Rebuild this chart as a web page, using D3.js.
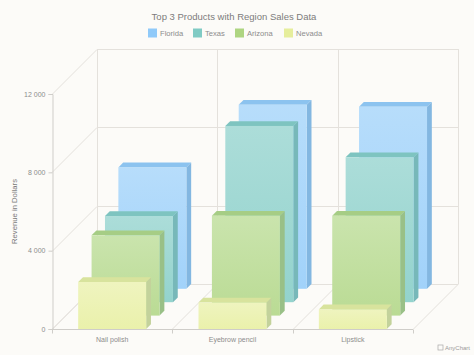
<!DOCTYPE html>
<html>
<head>
<meta charset="utf-8">
<script src="https://cdn.jsdelivr.net/npm/d3@7"></script>
<style>
  html, body { margin: 0; padding: 0; background: #fcfbf8; }
  svg { display: block; font-family: "Liberation Sans", Arial, sans-serif; }
</style>
</head>
<body>
<div id="chart"></div>
<script>
const categories = ["Nail polish", "Eyebrow pencil", "Lipstick"];
const seriesNames = ["Florida", "Texas", "Arizona", "Nevada"];
const florida = [6200, 9400, 9300];
const texas = [4400, 9000, 7400];
const arizona = [4100, 5100, 5100];
const nevada = [2400, 1350, 1000];
const yTicks = [0, 4000, 8000, 12000];
const palette = ["#90caf9", "#80cbc4", "#aed581", "#e6ee9c"];

const seriesValues = [florida, texas, arizona, nevada];

const width = 474, height = 355;
const plot = {left: 52, right: 413, top: 94, bottom: 329};
const depth = 45;
const zStep = 13.4;
const barDepth = depth - zStep * (seriesNames.length - 1);

const svg = d3.select("#chart").append("svg")
    .attr("width", width)
    .attr("height", height);

svg.append("rect")
    .attr("width", width).attr("height", height)
    .attr("fill", "#fcfbf8");

const xScale = d3.scaleBand()
    .domain(categories)
    .range([plot.left, plot.right])
    .paddingInner(0.435)
    .paddingOuter(0.2175);

const yScale = d3.scaleLinear()
    .domain([0, 12000])
    .range([plot.bottom, plot.top]);

const gridColor = "#e4e1dc";
const boundaries = d3.range(categories.length + 1).map(k => plot.left + k * xScale.step());

// walls / grid
const grid = svg.append("g").attr("stroke", gridColor).attr("stroke-width", 1).attr("fill", "none");
yTicks.forEach(t => {
    const y = Math.round(yScale(t)) + 0.5;
    grid.append("line")
        .attr("x1", plot.left + depth).attr("x2", plot.right + depth)
        .attr("y1", y - depth).attr("y2", y - depth);
    grid.append("line")
        .attr("x1", plot.left).attr("y1", y)
        .attr("x2", plot.left + depth).attr("y2", y - depth);
});
boundaries.forEach(bx => {
    const x = Math.round(bx) + 0.5;
    grid.append("line")
        .attr("x1", x + depth).attr("x2", x + depth)
        .attr("y1", yScale(12000) - depth).attr("y2", yScale(0) - depth);
    grid.append("line")
        .attr("x1", x).attr("y1", yScale(0))
        .attr("x2", x + depth).attr("y2", yScale(0) - depth);
});

// colour helpers
function mix(c, target, t) {
    return d3.interpolateRgb(c, target)(t);
}

const defs = svg.append("defs");
palette.forEach((c, i) => {
    const grad = defs.append("linearGradient")
        .attr("id", `front-${i}`)
        .attr("x1", 0).attr("y1", 0).attr("x2", 0).attr("y2", 1);
    grad.append("stop").attr("offset", "0%").attr("stop-color", mix(c, "#ffffff", 0.35));
    grad.append("stop").attr("offset", "100%").attr("stop-color", mix(c, "#ffffff", 0.15));
});

// bars, back series first
const bars = svg.append("g");
seriesValues.forEach((values, si) => {
    const slot = seriesNames.length - 1 - si;
    const z0 = slot * zStep, z1 = z0 + barDepth;
    const c = palette[si];
    values.forEach((v, ci) => {
        const xl = xScale(categories[ci]), xr = xl + xScale.bandwidth();
        const yt = yScale(v), yb = yScale(0);
        const g = bars.append("g");
        // side
        g.append("path")
            .attr("d", `M${xr + z0},${yt - z0}L${xr + z1},${yt - z1}L${xr + z1},${yb - z1}L${xr + z0},${yb - z0}Z`)
            .attr("fill", mix(c, "#5a7f99", 0.25));
        // top
        g.append("path")
            .attr("d", `M${xl + z0},${yt - z0}L${xr + z0},${yt - z0}L${xr + z1},${yt - z1}L${xl + z1},${yt - z1}Z`)
            .attr("fill", mix(c, "#6f8fa5", 0.12));
        // front
        g.append("rect")
            .attr("x", xl + z0).attr("y", yt - z0)
            .attr("width", xr - xl).attr("height", yb - yt)
            .attr("fill", `url(#front-${si})`);
    });
});

// y axis
const yAxis = svg.append("g")
    .attr("transform", `translate(${plot.left + 0.5},0)`)
    .call(d3.axisLeft(yScale).tickValues(yTicks).tickSize(4).tickPadding(3)
        .tickFormat(d => d3.format(",")(d).replace(/,/g, " ")));
yAxis.select(".domain").attr("stroke", "#cfcdc9");
yAxis.selectAll(".tick line").attr("stroke", "#cfcdc9");
yAxis.selectAll("text").attr("fill", "#8c8c8c").style("font-size", "7px")
    .style("font-family", "Liberation Sans, Arial, sans-serif");

// x axis
const xAxis = svg.append("g")
    .attr("transform", `translate(0,${plot.bottom + 0.5})`)
    .call(d3.axisBottom(xScale).tickSize(0).tickPadding(8));
xAxis.select(".domain").attr("stroke", "#cfcdc9").attr("d", `M${plot.left},0H${plot.right}`);
xAxis.selectAll("text").attr("fill", "#8c8c8c").style("font-size", "7px")
    .style("font-family", "Liberation Sans, Arial, sans-serif");
boundaries.forEach(bx => {
    xAxis.append("line")
        .attr("x1", Math.round(bx) + 0.5).attr("x2", Math.round(bx) + 0.5)
        .attr("y1", 0).attr("y2", 4)
        .attr("stroke", "#cfcdc9");
});

// y axis title
svg.append("text")
    .attr("transform", `translate(17,${(plot.top + plot.bottom) / 2}) rotate(-90)`)
    .attr("text-anchor", "middle")
    .attr("fill", "#7a7a7a")
    .style("font-size", "7.7px")
    .text("Revenue in Dollars");

// title
svg.append("text")
    .attr("x", 234).attr("y", 20)
    .attr("text-anchor", "middle")
    .attr("fill", "#7c7c7c")
    .style("font-size", "9.5px")
    .text("Top 3 Products with Region Sales Data");

// legend
const legendX = [148, 193, 235, 284];
const legend = svg.append("g");
seriesNames.forEach((name, i) => {
    legend.append("rect")
        .attr("x", legendX[i]).attr("y", 28.5)
        .attr("width", 9).attr("height", 9)
        .attr("fill", palette[i]);
    legend.append("text")
        .attr("x", legendX[i] + 12).attr("y", 36)
        .attr("fill", "#8c8c8c")
        .style("font-size", "7.6px")
        .text(name);
});

// credits
svg.append("text")
    .attr("x", 470).attr("y", 350)
    .attr("text-anchor", "end")
    .attr("fill", "#9a9a9a")
    .style("font-size", "6px")
    .text("AnyChart");
svg.append("rect")
    .attr("x", 438).attr("y", 345).attr("width", 5).attr("height", 5)
    .attr("fill", "none").attr("stroke", "#a8a8a8").attr("stroke-width", 0.7);
</script>
</body>
</html>
